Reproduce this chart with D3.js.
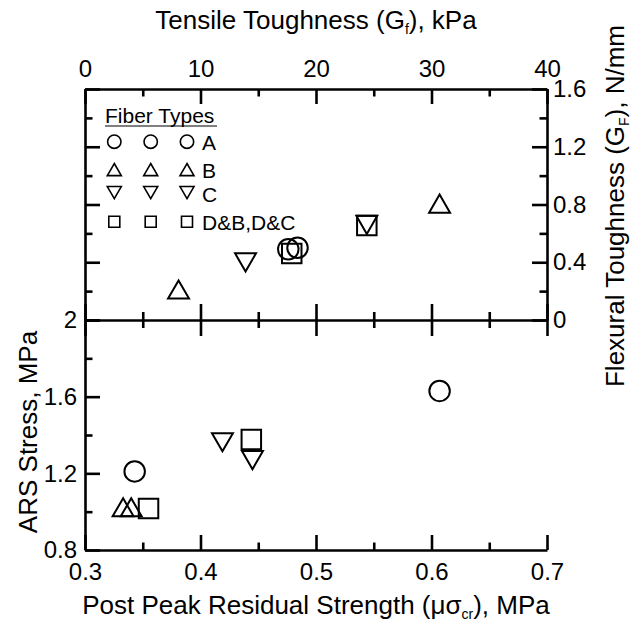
<!DOCTYPE html>
<meta charset="utf-8">
<script src="https://cdn.jsdelivr.net/npm/d3@7"></script>
<style>
    body { margin: 0; background: #fff; }
    text { font-family: "Liberation Sans", Arial, sans-serif; fill: #000; }
</style>
<div id="my_dataviz"></div>
<script>
    // fiber type of each specimen, and its values in both panels
    const ptType = ["A", "A", "B", "B", "C", "C", "D", "D"];
    const tensileG = [17.6, 18.4, 8.1, 30.7, 13.9, 24.4, 17.9, 24.4];
    const flexuralG = [0.49, 0.50, 0.19, 0.785, 0.42, 0.68, 0.46, 0.655];
    const residual = [0.343, 0.607, 0.333, 0.340, 0.419, 0.445, 0.355, 0.444];
    const arsStress = [1.21, 1.63, 1.007, 1.007, 1.378, 1.285, 1.017, 1.377];

    const legendKeys = ["A", "B", "C", "D"];
    const legendLabels = ["A", "B", "C", "D&B,D&C"];

    const topTicks = [0, 10, 20, 30, 40];
    const flexTicks = [0, 0.4, 0.8, 1.2, 1.6];
    const resTicks = [0.3, 0.4, 0.5, 0.6, 0.7];
    const arsTicks = [0.8, 1.2, 1.6, 2];

    const W = 631, H = 623;
    const pLeft = 85, pRight = 547, pTop = 89, pMid = 320, pBottom = 550;

    const svg = d3.select("#my_dataviz").append("svg")
        .attr("width", W).attr("height", H);

    const xTop = d3.scaleLinear().domain([0, 40]).range([pLeft, pRight]);
    const xBot = d3.scaleLinear().domain([0.3, 0.7]).range([pLeft, pRight]);
    const yTop = d3.scaleLinear().domain([0, 1.6]).range([pMid, pTop]);
    const yBot = d3.scaleLinear().domain([0.8, 2]).range([pBottom, pMid]);

    const fmt = d => d3.format("")(d);
    const minorOf = (ticks) => d3.pairs(ticks).map(p => (p[0] + p[1]) / 2);

    function styleAxis(sel) {
        sel.selectAll("path, line").attr("stroke", "#000").attr("stroke-width", 2.6);
        sel.selectAll("text").style("font-size", "24px").attr("fill", "#000");
        sel.attr("font-family", null);
    }

    function addAxis(axis, tx, ty, ticks, minorTicks, size, pad, both) {
        const g = svg.append("g").attr("transform", `translate(${tx},${ty})`);
        g.call(axis.tickValues(ticks).tickSize(size).tickSizeOuter(0)
            .tickPadding(pad || 0).tickFormat(pad ? fmt : ""));
        g.append("g").call(axis.tickValues(minorTicks).tickSize(size / 2).tickFormat(""))
            .select(".domain").remove();
        if (both) {
            g.append("g").call(axis.tickValues(ticks).tickSize(-size).tickFormat(""))
                .select(".domain").remove();
            g.append("g").call(axis.tickValues(minorTicks).tickSize(-size / 2).tickFormat(""))
                .select(".domain").remove();
        }
        styleAxis(g);
        return g;
    }

    // top panel axes
    addAxis(d3.axisTop(xTop), 0, pTop, topTicks, minorOf(topTicks), -15, 12);
    addAxis(d3.axisRight(yTop), pRight, 0, flexTicks, minorOf(flexTicks), -15, 6);
    addAxis(d3.axisLeft(yTop), pLeft, 0, flexTicks, minorOf(flexTicks), -15, 0);
    // shared middle line
    addAxis(d3.axisBottom(xBot), 0, pMid, resTicks, minorOf(resTicks), 16, 0, true);
    // bottom panel axes
    addAxis(d3.axisLeft(yBot), pLeft, 0, arsTicks, minorOf(arsTicks), -15, 8);
    addAxis(d3.axisBottom(xBot), 0, pBottom, resTicks, minorOf(resTicks), -15, 13);

    const shapes = {
        A: d3.symbol().type(d3.symbolCircle),
        B: d3.symbol().type(d3.symbolTriangle),
        C: d3.symbol().type(d3.symbolTriangle),
        D: d3.symbol().type(d3.symbolSquare)
    };
    const bigSize = {A: 330, B: 190, C: 190, D: 380};
    const smallSize = {A: 140, B: 85, C: 85, D: 121};
    const rot = t => t === "C" ? 180 : 0;

    function drawMarks(xs, ys, xScale, yScale) {
        svg.append("g").selectAll("path")
            .data(ptType)
            .enter()
            .append("path")
            .attr("d", (t) => shapes[t].size(bigSize[t])())
            .attr("transform", (t, i) => `translate(${xScale(xs[i])},${yScale(ys[i])}) rotate(${rot(t)})`)
            .attr("fill", "none")
            .attr("stroke", "#000")
            .attr("stroke-width", 2);
    }
    drawMarks(tensileG, flexuralG, xTop, yTop);
    drawMarks(residual, arsStress, xBot, yBot);

    // legend
    const legMarkY = [141.7, 171.6, 190.6, 221.7];
    const legTextY = [142.5, 170, 194, 222];
    const legX = [114.3, 150.7, 187];
    const leg = svg.append("g");
    leg.append("text").attr("x", 105).attr("y", 123)
        .style("font-size", "21px").text("Fiber Types");
    leg.append("line").attr("x1", 105).attr("x2", 217).attr("y1", 126).attr("y2", 126)
        .attr("stroke", "#000").attr("stroke-width", 1.2);
    legendKeys.forEach((k, i) => {
        legX.forEach(x => {
            leg.append("path")
                .attr("d", shapes[k].size(smallSize[k])())
                .attr("transform", `translate(${x},${legMarkY[i]}) rotate(${rot(k)})`)
                .attr("fill", "none").attr("stroke", "#000").attr("stroke-width", 1.6);
        });
        leg.append("text").attr("x", 202).attr("y", legTextY[i])
            .attr("dy", "0.36em").style("font-size", "21px").text(legendLabels[i]);
    });

    // axis titles
    const t1 = svg.append("text").attr("x", (pLeft + pRight) / 2).attr("y", 29)
        .attr("text-anchor", "middle").style("font-size", "26px");
    t1.append("tspan").text("Tensile Toughness (G");
    t1.append("tspan").attr("dy", 5).style("font-size", "14px").text("f");
    t1.append("tspan").attr("dy", -5).text("), kPa");

    const t2 = svg.append("text").attr("x", (pLeft + pRight) / 2).attr("y", 614)
        .attr("text-anchor", "middle").style("font-size", "26px");
    t2.append("tspan").text("Post Peak Residual Strength (\u03bc\u03c3");
    t2.append("tspan").attr("dy", 5).style("font-size", "14px").text("cr");
    t2.append("tspan").attr("dy", -5).text("), MPa");

    svg.append("text")
        .attr("transform", `translate(37,432) rotate(-90)`)
        .attr("text-anchor", "middle").style("font-size", "26px")
        .text("ARS Stress, MPa");

    const t4 = svg.append("text")
        .attr("transform", `translate(624,206) rotate(-90)`)
        .attr("text-anchor", "middle").style("font-size", "26px");
    t4.append("tspan").text("Flexural Toughness (G");
    t4.append("tspan").attr("dy", 5).style("font-size", "14px").text("F");
    t4.append("tspan").attr("dy", -5).text("), N/mm");
</script>
